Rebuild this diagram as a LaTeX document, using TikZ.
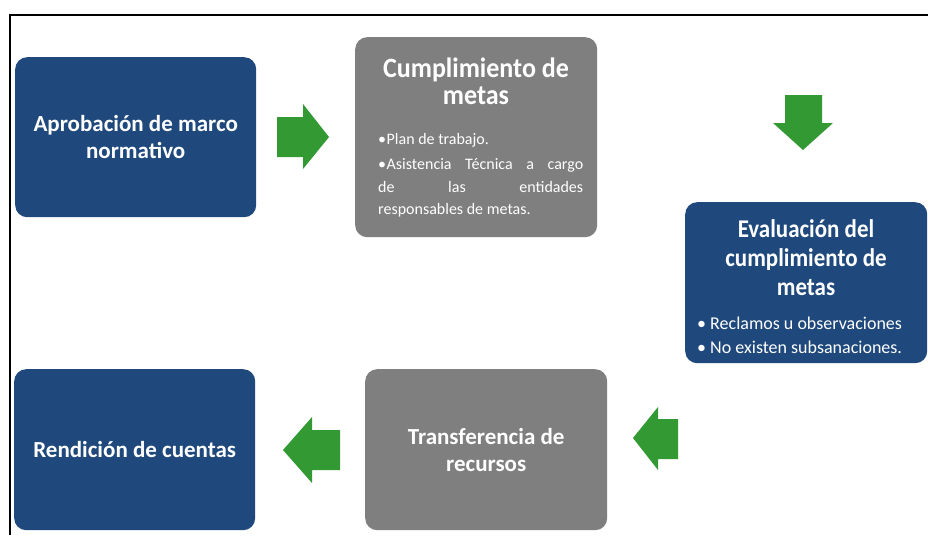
\documentclass[tikz,border=0pt]{standalone}
\usepackage{fontspec}
\setmainfont{Carlito}
\newfontfamily\condfont[FakeStretch=0.93]{Carlito}
\newfontfamily\condfontb[FakeStretch=0.9]{Carlito}
\definecolor{boxblue}{HTML}{1F497D}
\definecolor{boxgray}{HTML}{7F7F7F}
\definecolor{arrowgreen}{HTML}{339933}
\hbadness=10000
\begin{document}
\begin{tikzpicture}[x=1pt,y=1pt,
  stepbox/.style={rounded corners=12pt, inner sep=0pt, anchor=north west},
  bluebox/.style={stepbox, fill=boxblue},
  graybox/.style={stepbox, fill=boxgray},
  boxtext/.style={text=white, align=center, font=\bfseries\fontsize{23}{27}\selectfont},
  headA/.style={text=white, inner sep=0pt, align=center, anchor=north, font=\condfont\bfseries\fontsize{28}{27}\selectfont},
  headB/.style={text=white, inner sep=0pt, align=center, anchor=north, font=\condfontb\bfseries\fontsize{25.5}{29}\selectfont},
  bulletsA/.style={text=white, inner sep=0pt, anchor=north west, text width=205pt, align=justify, font=\fontsize{16}{22.5}\selectfont},
  bulletsB/.style={text=white, inner sep=0pt, anchor=north west, align=left, font=\fontsize{18}{24}\selectfont},
  blockarrow/.style={fill=arrowgreen}]
\useasboundingbox (0,0) rectangle (928,-535);
\fill[white] (0,0) rectangle (928,-535);
\draw[line width=1.8pt] (10,-535) -- (10,-15) -- (928,-15);

% boxes
\node[bluebox, minimum width=241pt, minimum height=160pt, boxtext] (aprob) at (15,-57) {Aprobación de marco\\normativo};
\node[graybox, minimum width=242pt, minimum height=200pt] (cumpl) at (355,-37) {};
\node[bluebox, minimum width=242pt, minimum height=161pt] (eval) at (685,-202) {};
\node[graybox, minimum width=242pt, minimum height=161pt, boxtext] (transf) at (365,-369) {Transferencia de\\recursos};
\node[bluebox, minimum width=241pt, minimum height=161pt, boxtext] (rend) at (14,-369) {Rendición de cuentas};

% texts of box 2
\node[headA] (cumplhead) at (476,-58) {Cumplimiento de\\metas};
\node[bulletsA] (cumplitems) at (378,-133.5) {%
  \parskip=2.5pt\noindent\makebox[8.5pt][l]{•}Plan de trabajo.\par
  \noindent\makebox[8.5pt][l]{•}Asistencia Técnica a cargo\linebreak de las entidades\linebreak responsables de metas.};

% texts of box 3
\node[headB] (evalhead) at (806,-219) {Evaluación del\\cumplimiento de\\metas};
\node[bulletsB] (evalitems) at (697,-317) {•~Reclamos u observaciones\\•~No existen subsanaciones.};

% green block arrows
\fill[blockarrow] (277,-117) -- (303,-117) -- (303,-104) -- (329,-137) -- (303,-169) -- (303,-157) -- (277,-157) -- cycle;
\fill[blockarrow] (785,-95) -- (822,-95) -- (822,-123) -- (833,-123) -- (803,-150) -- (773,-123) -- (785,-123) -- cycle;
\fill[blockarrow] (678,-419) -- (658,-419) -- (658,-407) -- (633,-438) -- (658,-470) -- (658,-459) -- (678,-459) -- cycle;
\fill[blockarrow] (340,-430) -- (312,-430) -- (312,-417) -- (283,-450) -- (312,-483) -- (312,-470) -- (340,-470) -- cycle;
\end{tikzpicture}
\end{document}
